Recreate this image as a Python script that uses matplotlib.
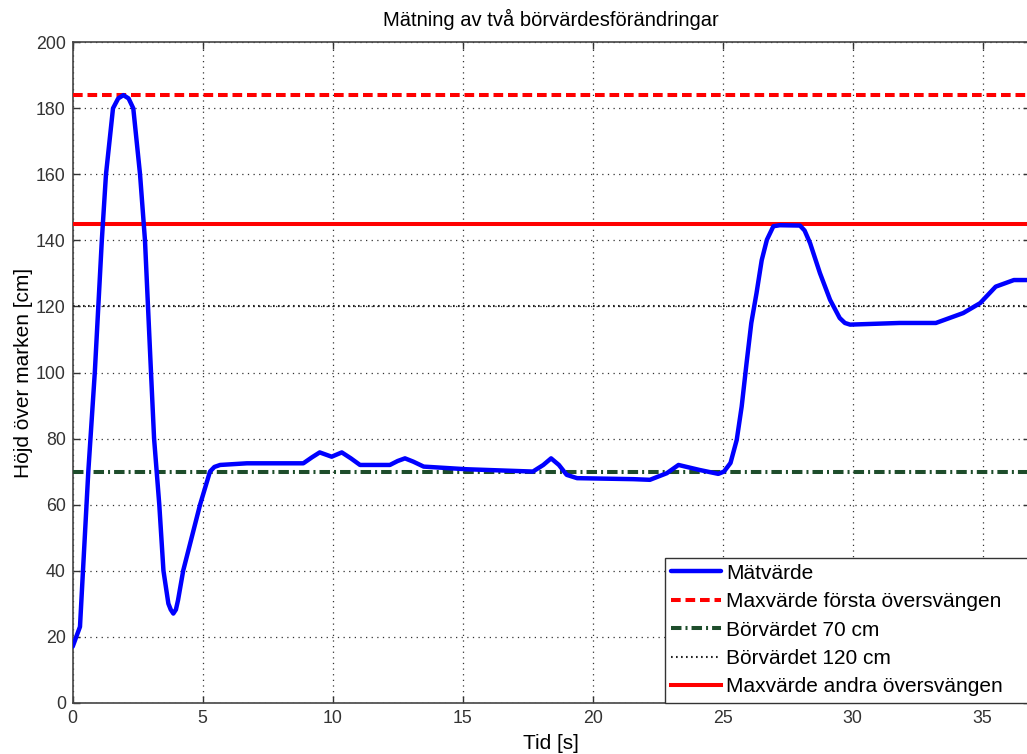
import matplotlib
matplotlib.use("Agg")
import matplotlib.pyplot as plt

# ---- data ----
tid = [0, 0.28, 0.6, 0.85, 1.12, 1.28, 1.55, 1.75, 1.95, 2.15, 2.33, 2.46, 2.59, 2.78, 3.0,
       3.13, 3.23, 3.33, 3.49, 3.68, 3.77, 3.87, 3.97, 4.05, 4.25, 4.9, 5.09, 5.28, 5.45,
       5.67, 6.7, 8.87, 9.2, 9.5, 9.96, 10.35, 10.7, 11.05, 12.2, 12.5, 12.78, 13.1, 13.5,
       15.15, 17.7, 18.1, 18.4, 18.7, 19.0, 19.4, 21.56, 22.2, 22.85, 23.3, 24.1, 24.83,
       25.05, 25.3, 25.54, 25.73, 25.92, 26.1, 26.3, 26.5, 26.7, 26.95, 27.2, 27.97, 28.15,
       28.36, 28.74, 29.13, 29.5, 29.7, 29.9, 31.8, 33.2, 34.25, 34.9, 35.5, 36.2, 36.8]
matvarde = [17, 23, 70, 100, 140, 160, 180, 183, 184, 183, 180, 170, 160, 140, 102,
            80, 70, 60, 40, 30, 28.2, 27, 28.2, 31, 40, 60, 65, 70, 71.4,
            72, 72.5, 72.5, 74.3, 75.8, 74.5, 75.8, 74, 72, 72, 73.2, 74, 73, 71.5,
            70.7, 70, 72, 74, 72, 69, 68, 67.7, 67.5, 69.5, 72, 70.5, 69.3,
            70, 72.6, 79.6, 89.7, 103, 115, 124, 134, 140.2, 144.3, 144.6, 144.5, 143,
            139.2, 130.1, 122, 116.5, 115, 114.5, 115, 115, 118, 121, 126, 128, 128]
max_forsta = 184
max_andra = 145
borvarde_1 = 70
borvarde_2 = 120
x_ticks = [0, 5, 10, 15, 20, 25, 30, 35]
y_ticks = [0, 20, 40, 60, 80, 100, 120, 140, 160, 180, 200]
labels = ["Mätvärde", "Maxvärde första översvängen", "Börvärdet 70 cm",
          "Börvärdet 120 cm", "Maxvärde andra översvängen"]

plt.rcParams['font.family'] = ['Liberation Sans', 'DejaVu Sans']

W, H = 1027, 754
fig = plt.figure(figsize=(W / 100, H / 100), dpi=100)
left = 72.7 / W
bottom = (H - 702.7) / H
top = (H - 42.3) / H
right = 1030 / W
ax = fig.add_axes([left, bottom, right - left, top - bottom])

xmax = (1030 - 72.7) / 26.0
ax.set_xlim(0, xmax)
ax.set_ylim(0, 200)

l1, = ax.plot(tid, matvarde, color='#0000ff', lw=3.2, solid_joinstyle='round',
              solid_capstyle='round', zorder=5)
l2 = ax.axhline(max_forsta, color='#ff0000', lw=2.9, dashes=(2.4, 1.2), zorder=4)
l3 = ax.axhline(borvarde_1, color='#1e4d2b', lw=2.9, dashes=(2.6, 1.0, 0.5, 1.0), zorder=4)
l4 = ax.axhline(borvarde_2, color='#222222', lw=1.5, linestyle=(0, (0.8, 1.6)), zorder=4)
l5 = ax.axhline(max_andra, color='#ff0000', lw=2.9, zorder=4)

ax.set_xticks(x_ticks)
ax.set_yticks(y_ticks)
ax.grid(True, color='#333333', linestyle=(0, (1, 3.5)), lw=0.9)
ax.tick_params(direction='in', top=True, right=True, length=5, width=1,
               colors='#333333', labelsize=12.8, pad=5)
for s in ax.spines.values():
    s.set_color('#444444')
    s.set_linewidth(1.2)

ax.set_title("Mätning av två börvärdesförändringar", fontsize=14.5, pad=12)
ax.set_xlabel("Tid [s]", fontsize=15, labelpad=5)
ax.set_ylabel("Höjd över marken [cm]", fontsize=15, labelpad=2)

leg = fig.legend([l1, l2, l3, l4, l5], labels, loc='lower left',
                 bbox_to_anchor=(665 / W, (H - 702.5) / H, 420 / W, 0.3),
                 mode='expand', borderaxespad=0,
                 fontsize=15, handlelength=2.4, handletextpad=0.25,
                 labelspacing=0.45, borderpad=0.3, fancybox=False, framealpha=1)
leg.get_frame().set_edgecolor('#333333')
leg.get_frame().set_linewidth(1.0)

fig.savefig("out.png", dpi=100)
